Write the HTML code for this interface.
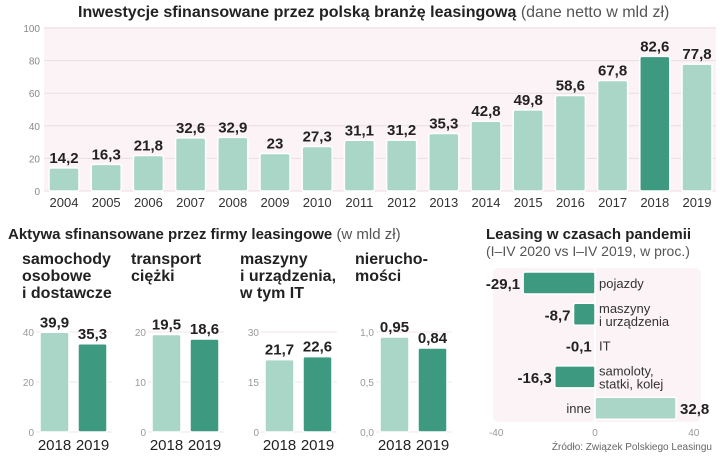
<!DOCTYPE html>
<html><head><meta charset="utf-8"><style>
body{margin:0;background:#fff;font-family:"Liberation Sans",sans-serif;}
svg text{font-family:"Liberation Sans","Noto Sans CJK SC",sans-serif;}
</style></head><body>
<svg id="s" width="720" height="454" viewBox="0 0 720 454" xmlns="http://www.w3.org/2000/svg">
<text x="78" y="17" font-size="16" font-weight="bold" fill="#222">Inwestycje sfinansowane przez polską branżę leasingową <tspan font-weight="normal" fill="#555">(dane netto w mld zł)</tspan></text>
<rect x="44" y="27" width="672" height="164" fill="#fbf3f5"/>
<g id="topg"></g>
<text x="8" y="239" font-size="15" font-weight="bold" fill="#222">Aktywa sfinansowane przez firmy leasingowe <tspan font-weight="normal" fill="#555">(w mld zł)</tspan></text>
<g id="small"></g>
<text x="486" y="239" font-size="15" font-weight="bold" fill="#222">Leasing w czasach pandemii</text>
<text x="486" y="256" font-size="14" fill="#555">(I–IV 2020 vs I–IV 2019, w proc.)</text>
<rect x="493" y="268" width="208" height="154" rx="6" fill="#fbf3f5"/>
<g id="pand"></g>
<text x="712" y="450" font-size="10" fill="#666" text-anchor="end">Źródło: Związek Polskiego Leasingu</text>
</svg>
<script>
const years=["2004","2005","2006","2007","2008","2009","2010","2011","2012","2013","2014","2015","2016","2017","2018","2019"];
const invest=[14.2,16.3,21.8,32.6,32.9,23,27.3,31.1,31.2,35.3,42.8,49.8,58.6,67.8,82.6,77.8];
const investTicks=[0,20,40,60,80,100];
const smallCats=[["samochody","osobowe","i dostawcze"],["transport","ciężki"],["maszyny","i urządzenia,","w tym IT"],["nierucho-","mości"]];
const smallYears=["2018","2019"];
const smallVals=[[39.9,35.3],[19.5,18.6],[21.7,22.6],[0.95,0.84]];
const smallMax=[40,20,30,1.0];
const smallTickLabels=[["0","20","40"],["0","10","20"],["0","15","30"],["0,0","0,5","1,0"]];
const pandCats=[["pojazdy"],["maszyny","i urządzenia"],["IT"],["samoloty,","statki, kolej"],["inne"]];
const pandVals=[-29.1,-8.7,-0.1,-16.3,32.8];
const pandTicks=["-40","0","40"];

const NS="http://www.w3.org/2000/svg";
function mk(p,t,a,txt){const e=document.createElementNS(NS,t);for(const k in a)e.setAttribute(k,a[k]);if(txt!==undefined)e.textContent=txt;p.appendChild(e);return e;}
const fmt=v=>String(v).replace('.',',');
const LIGHT="#a9d6c6",DARK="#3d9a80";

const topG=document.getElementById('topg');
const ty=v=>191-v*1.63, tx=i=>64+i*42.2;
investTicks.forEach(t=>{
 const l=mk(topG,'line',{x1:44,x2:716,y1:ty(t),y2:ty(t),stroke:"#ecdde2","stroke-width":1});
 
 const e=mk(topG,'text',{x:40,y:ty(t)+4,"font-size":10,fill:"#888","text-anchor":"end"},String(t));
 
});
invest.forEach((v,i)=>{
 const r=mk(topG,'rect',{x:tx(i)-15,y:ty(v),width:30,height:191-ty(v),rx:2,fill:i==14?DARK:LIGHT,stroke:"#fff","stroke-width":1.5});
 
 const t=mk(topG,'text',{x:tx(i),y:ty(v)-5,"font-size":15,"font-weight":"bold",fill:"#222","text-anchor":"middle"},fmt(v));
 
 const y=mk(topG,'text',{x:tx(i),y:207,"font-size":13,fill:"#333","text-anchor":"middle"},years[i]);
 
});

const sm=document.getElementById('small');
const sx0=[40,152,265,380];
smallVals.forEach((vals,c)=>{
 const sy=v=>432-v/smallMax[c]*100;
 smallCats[c].forEach((ln,k)=>{
  const e=mk(sm,'text',{x:sx0[c]-18+(c==0?0:c==1?-3:c==2?-7:-7),y:264+k*17,"font-size":16,"font-weight":"bold",fill:"#222"},ln);
  
 });
 smallTickLabels[c].forEach((tl,k)=>{
  const yy=432-k*50;
  const l=mk(sm,'line',{x1:sx0[c]-4,x2:sx0[c]+72,y1:yy,y2:yy,stroke:"#f0e4e8"});
  
  const e=mk(sm,'text',{x:sx0[c]-6,y:yy+4,"font-size":10,fill:"#999","text-anchor":"end"},tl);
  
 });
 vals.forEach((v,i)=>{
  const x=sx0[c]+i*38;
  const r=mk(sm,'rect',{x:x,y:sy(v),width:29,height:432-sy(v),rx:2,fill:i?DARK:LIGHT,stroke:"#fff","stroke-width":1.5});
  
  const t=mk(sm,'text',{x:x+14.5,y:sy(v)-5,"font-size":15,"font-weight":"bold",fill:"#222","text-anchor":"middle"},fmt(v));
  
  const y=mk(sm,'text',{x:x+14.5,y:450,"font-size":15,fill:"#222","text-anchor":"middle"},smallYears[i]);
  
 });
});

const pd=document.getElementById('pand');
const px=v=>595+v*2.47;
const zl=mk(pd,'line',{x1:595,x2:595,y1:268,y2:422,stroke:"#fff","stroke-width":2});

pandTicks.forEach(t=>{
 const e=mk(pd,'text',{x:px(+t),y:436,"font-size":10,fill:"#999","text-anchor":"middle"},t);
 
});
pandVals.forEach((v,i)=>{
 const yc=283+i*31.3;
 const x0=Math.min(px(v),595), w=Math.abs(px(v)-595);
 const r=mk(pd,'rect',{x:x0,y:yc-11,width:Math.max(w,0.5),height:22,rx:2,fill:v<0?DARK:LIGHT,stroke:"#fff","stroke-width":1.5});
 
 const vx=v<0?px(v)-3:px(v)+4;
 const t=mk(pd,'text',{x:vx,y:yc+6,"font-size":15,"font-weight":"bold",fill:"#222","text-anchor":v<0?"end":"start"},fmt(v));
 
 const lines=pandCats[i];
 lines.forEach((ln,k)=>{
  const ly=yc+5+(k-(lines.length-1)/2)*13;
  const e=mk(pd,'text',{x:v<0?599:591,y:ly,"font-size":13,fill:"#333","text-anchor":v<0?"start":"end"},ln);
  
 });
});
</script>
</body></html>
